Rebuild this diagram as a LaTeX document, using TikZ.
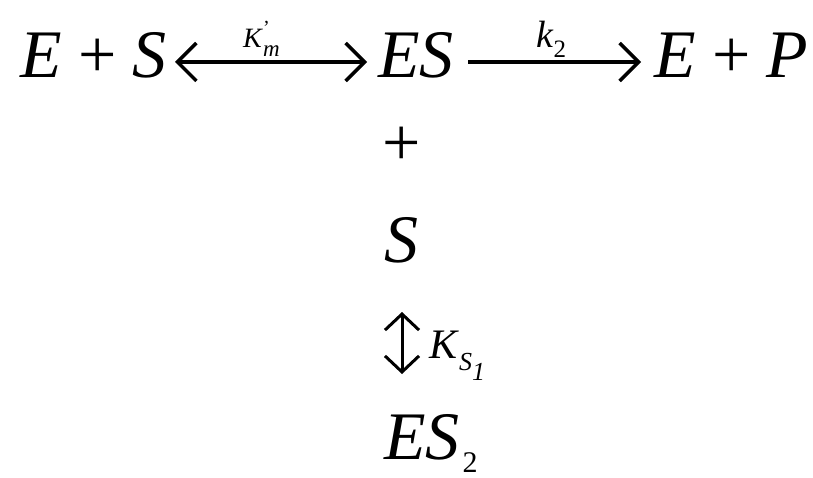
\documentclass[tikz,border=0pt]{standalone}
\usepackage{fontspec}
\setmainfont{Liberation Serif}
\usetikzlibrary{arrows.meta}
\begin{document}
\begin{tikzpicture}[x=1pt,y=1pt,
  big/.style={inner sep=0pt, anchor=base west, font=\fontsize{68}{70}\selectfont},
  lbl/.style={inner sep=0pt, anchor=base west},
  hconn/.style={line width=4pt, -{Straight Barb[length=19pt,width=38pt,line width=3.5pt]}},
  hdbl/.style={line width=4pt, {Straight Barb[length=19pt,width=38pt,line width=3.5pt]}-{Straight Barb[length=19pt,width=38pt,line width=3.5pt]}},
  vdbl/.style={line width=3pt, {Straight Barb[length=16pt,width=34pt,line width=3pt]}-{Straight Barb[length=16pt,width=34pt,line width=3pt]}}]
\useasboundingbox (0,0) rectangle (813,-478);
% top row
\node[big] (es1) at (20,-78) {\textit{E}\hspace{0.24em}+\hspace{0.24em}\textit{S}};
\node[big] (es) at (378,-78) {\textit{ES}};
\node[big] (ep) at (654,-78) {\textit{E}\hspace{0.24em}+\hspace{0.24em}\textit{P}};
\coordinate (a1) at (175,-62);
\coordinate (a2) at (367,-62);
\coordinate (b1) at (468,-62);
\coordinate (b2) at (641,-62);
\draw[hdbl] (a1) -- (a2);
\draw[hconn] (b1) -- (b2);
% labels on arrows
\node[lbl] (km) at (243,-48) {\fontsize{28}{28}\selectfont\textit{K}\makebox[0pt][l]{\raisebox{13pt}{\fontsize{20}{20}\selectfont '}}\raisebox{-9pt}{\fontsize{23}{23}\selectfont\textit{m}}};
\node[lbl] (k2) at (536,-48) {\fontsize{38}{38}\selectfont\textit{k}\raisebox{-10pt}{\fontsize{25}{25}\selectfont 2}};
% vertical column
\node[inner sep=0pt, font=\fontsize{68}{70}\selectfont] (plus) at (402,-146) {+};
\node[big] (s) at (384,-262) {\textit{S}};
\coordinate (c1) at (402,-312);
\coordinate (c2) at (402,-374);
\draw[vdbl] (c1) -- (c2);
\node[lbl] (ks) at (429,-358) {\fontsize{42}{42}\selectfont\textit{K}\raisebox{-12pt}{\fontsize{26}{26}\selectfont\textit{S}\raisebox{-10pt}{\textit{1}}}};
\node[big] (es2) at (384,-459) {\textit{ES}\hspace{3pt}\raisebox{-13pt}{\fontsize{30}{30}\selectfont 2}};
\end{tikzpicture}
\end{document}
